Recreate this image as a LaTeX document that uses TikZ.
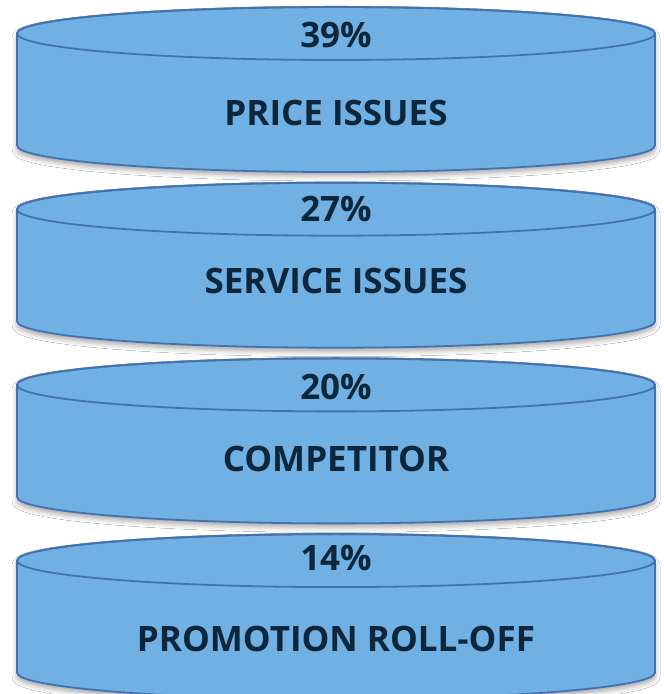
\documentclass[tikz,border=0pt]{standalone}
\usepackage{fontspec}
\setmainfont{Open Sans}
\usetikzlibrary{shadows.blur}

\definecolor{discfill}{RGB}{112,176,226}
\definecolor{discline}{RGB}{66,114,180}
\definecolor{disctext}{RGB}{12,38,60}

\tikzset{
  disc/.style={fill=discfill, draw=discline, line width=1.8pt, line join=round},
  discshadow/.style={blur shadow={shadow xshift=0pt, shadow yshift=-4pt,
      shadow blur radius=5pt, shadow opacity=35}},
  lbl/.style={text=disctext, font=\fontsize{35}{38}\selectfont\bfseries,
      inner sep=0pt, anchor=center},
}

% one disc: #1 = centre of its top ellipse (y measured upwards)
\newcommand{\drawdisc}[1]{%
  \path[disc, discshadow]
    (17,#1) -- (17,#1-112)
    arc[start angle=180, end angle=360, x radius=319pt, y radius=26.5pt]
    -- (655,#1)
    arc[start angle=0, end angle=180, x radius=319pt, y radius=26.5pt]
    -- cycle;
  \draw[disc, fill=none] (336,#1) ellipse[x radius=319pt, y radius=26.5pt];
}

\begin{document}
\begin{tikzpicture}[x=1pt, y=1pt]
  \useasboundingbox[fill=white] (0,0) rectangle (664,694);

  \drawdisc{660.5}
  \drawdisc{484.8}
  \drawdisc{309.1}
  \drawdisc{133.4}

  \node[lbl] (p1) at (336,659) {39\%};
  \node[lbl] (t1) at (336,581) {PRICE ISSUES};
  \node[lbl] (p2) at (336,485.5) {27\%};
  \node[lbl] (t2) at (336,413) {SERVICE ISSUES};
  \node[lbl] (p3) at (336,307.5) {20\%};
  \node[lbl] (t3) at (336,235.5) {COMPETITOR};
  \node[lbl] (p4) at (336,136) {14\%};
  \node[lbl] (t4) at (336,55.5) {PROMOTION ROLL-OFF};
\end{tikzpicture}
\end{document}
